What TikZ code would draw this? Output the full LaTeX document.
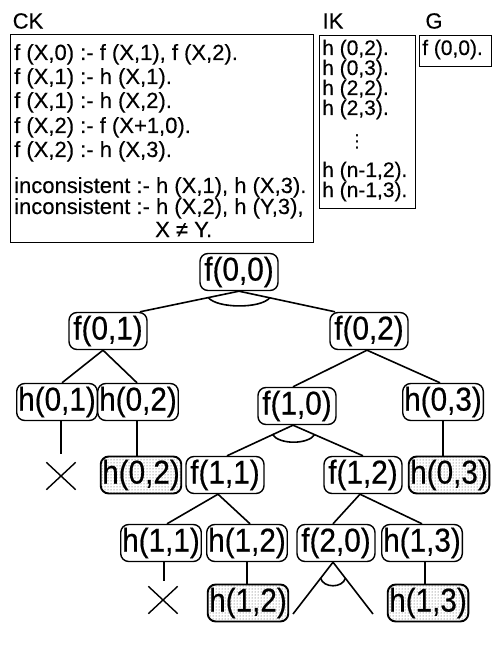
\documentclass[tikz,border=0pt]{standalone}
\usepackage{fontspec}
\setmainfont{Liberation Sans}
\newfontfamily\treefont[FakeStretch=0.9,FakeBold=0.5]{Liberation Sans}
\newfontfamily\boxfont[FakeBold=0.3]{Liberation Sans}
\newfontfamily\symfont{DejaVu Sans}
\usetikzlibrary{shapes.misc,patterns}
\begin{document}
\begin{tikzpicture}[x=1pt,y=-1pt,
  tn/.style={draw, rounded corners=8pt, line width=1.4pt, minimum width=78pt, minimum height=37pt, inner xsep=1.5pt, inner ysep=0pt, font=\treefont\fontsize{33}{33}\selectfont},
  tns/.style={tn, pattern=dots, pattern color=black!75, line width=1.9pt},
  crossmark/.style={cross out, draw, line width=1.4pt, minimum width=28pt, minimum height=26pt, inner sep=0pt},
  edge/.style={line width=1.6pt},
  kbox/.style={draw, line width=1.3pt, anchor=north west, inner sep=0pt},
  ktext/.style={anchor=base west, inner sep=0pt, font=\boxfont\fontsize{22}{22}\selectfont},
  itext/.style={anchor=base west, inner sep=0pt, font=\boxfont\fontsize{21}{21}\selectfont},
  lbl/.style={font=\boxfont\fontsize{22}{22}\selectfont, inner sep=0pt}
]
\useasboundingbox (0,0) rectangle (497,652);

% labels
\node[lbl] (ck) at (28,21) {CK};
\node[lbl] (ik) at (333,21) {IK};
\node[lbl] (g) at (434,21) {G};

% boxes
\node[kbox, minimum width=303pt, minimum height=208pt] (ckbox) at (10,34) {};
\node[kbox, minimum width=96pt, minimum height=173pt] (ikbox) at (319,35) {};
\node[kbox, minimum width=72pt, minimum height=31pt] (gbox) at (419,35) {};

% CK text
\node[ktext] (c1) at (14,60) {f (X,0) :- f (X,1), f (X,2).};
\node[ktext] (c2) at (14,84) {f (X,1) :- h (X,1).};
\node[ktext] (c3) at (14,108) {f (X,1) :- h (X,2).};
\node[ktext] (c4) at (14,133) {f (X,2) :- f (X+1,0).};
\node[ktext] (c5) at (14,157) {f (X,2) :- h (X,3).};
\node[ktext] (c6) at (14,193) {inconsistent :- h (X,1), h (X,3).};
\node[ktext] (c7) at (14,214) {inconsistent :- h (X,2), h (Y,3),};
\node[ktext] (c8) at (155,237) {X ≠ Y.};

% IK text
\node[itext] (i1) at (322,55) {h (0,2).};
\node[itext] (i2) at (322,75) {h (0,3).};
\node[itext] (i3) at (322,95) {h (2,2).};
\node[itext] (i4) at (322,115) {h (2,3).};
\node[inner sep=0pt, font=\symfont\fontsize{18}{18}\selectfont] (i5) at (357,142) {⋮};
\node[itext] (i6) at (322,177) {h (n-1,2).};
\node[itext] (i7) at (322,197) {h (n-1,3).};

% G text
\node[itext] (g1) at (422,55) {f (0,0).};

% tree nodes
\node[tn] (f00) at (239,272) {f(0,0)};
\node[tn] (f01) at (108,331) {f(0,1)};
\node[tn] (f02) at (369,331) {f(0,2)};
\node[tn] (h01) at (57,402) {h(0,1)};
\node[tn] (h02) at (138,402) {h(0,2)};
\node[tn] (f10) at (297,406) {f(1,0)};
\node[tn] (h03) at (443,402) {h(0,3)};
\node[crossmark] (x1) at (61,476) {};
\node[tns] (h02s) at (141,475) {h(0,2)};
\node[tn] (f11) at (225,475) {f(1,1)};
\node[tn] (f12) at (363,475) {f(1,2)};
\node[tns] (h03s) at (449,475) {h(0,3)};
\node[tn] (h11) at (161,543) {h(1,1)};
\node[tn] (h12) at (247,543) {h(1,2)};
\node[tn] (f20) at (336,543) {f(2,0)};
\node[tn] (h13) at (422,543) {h(1,3)};
\node[crossmark] (x2) at (163,600) {};
\node[tns] (h12s) at (248,603) {h(1,2)};
\node[tns] (h13s) at (428,603) {h(1,3)};
\coordinate (f20l) at (293,614);
\coordinate (f20r) at (373,614);

% edges
\draw[edge] (f00.south) -- coordinate[pos=.31] (a1) ([xshift=32pt]f01.north);
\draw[edge] (f00.south) -- coordinate[pos=.32] (a2) ([xshift=-34pt]f02.north);
\draw[edge] (a1) .. controls +(9,11) and +(-9,11) .. (a2);

\draw[edge] ([xshift=-5pt]f01.south) -- ([xshift=5pt]h01.north);
\draw[edge] ([xshift=-5pt]f01.south) -- ([xshift=-1pt]h02.north);

\draw[edge] ([xshift=-2pt]f02.south) -- ([xshift=-4pt]f10.north);
\draw[edge] ([xshift=-2pt]f02.south) -- ([xshift=-3pt]h03.north);

\draw[edge] ([xshift=-4pt]f10.south) -- coordinate[pos=.31] (b1) ([xshift=2pt]f11.north);
\draw[edge] ([xshift=-4pt]f10.south) -- coordinate[pos=.31] (b2) (f12.north);
\draw[edge] (b1) .. controls +(7,10) and +(-7,10) .. (b2);

\draw[edge] ([xshift=-7pt]f11.south) -- ([xshift=6pt]h11.north);
\draw[edge] ([xshift=-7pt]f11.south) -- ([xshift=3pt]h12.north);

\draw[edge] ([xshift=-3pt]f12.south) -- ([xshift=-3pt]f20.north);
\draw[edge] ([xshift=-3pt]f12.south) -- (h13.north);

\draw[edge] ([xshift=-3pt]f20.south) -- coordinate[pos=.31] (d1) (f20l);
\draw[edge] ([xshift=-3pt]f20.south) -- coordinate[pos=.31] (d2) (f20r);
\draw[edge] (d1) .. controls +(3,10) and +(-3,10) .. (d2);

\draw[edge, shorten >=8pt] ([xshift=4pt]h01.south) -- ([xshift=4pt]h01.south |- x1.north);
\draw[edge] ([xshift=-1pt]h02.south) -- ([xshift=-1pt]h02.south |- h02s.north);
\draw[edge] (h03.south) -- (h03.south |- h03s.north);
\draw[edge, shorten >=5pt] ([xshift=3pt]h11.south) -- ([xshift=3pt]h11.south |- x2.north);
\draw[edge] (h12.south) -- (h12.south |- h12s.north);
\draw[edge] ([xshift=3pt]h13.south) -- ([xshift=3pt]h13.south |- h13s.north);
\end{tikzpicture}
\end{document}
